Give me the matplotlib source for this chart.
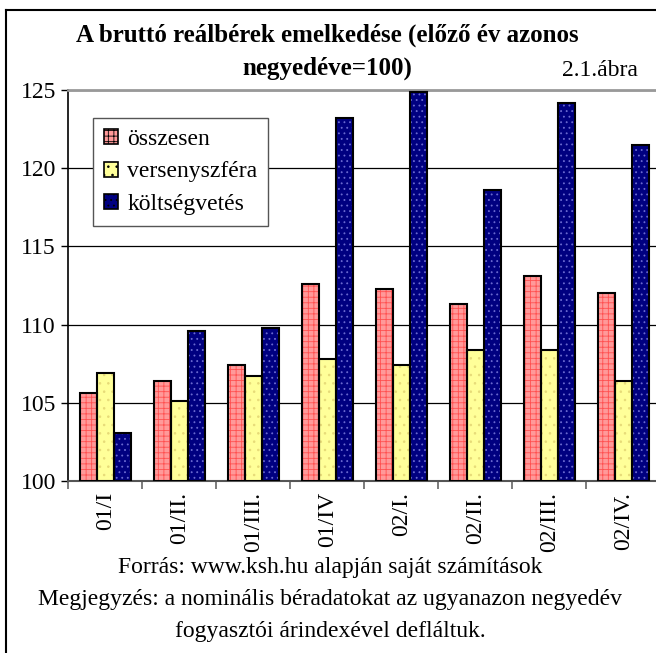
import numpy as np
import matplotlib
matplotlib.use('Agg')
import matplotlib.pyplot as plt
from matplotlib.lines import Line2D

plt.rcParams['font.family'] = ['Liberation Serif', 'DejaVu Serif']
plt.rcParams['hatch.linewidth'] = 0.6

# adatok
negyedevek = ['01/I', '01/II.', '01/III.', '01/IV', '02/I.', '02/II.', '02/III.', '02/IV.']
osszesen = [105.6, 106.4, 107.4, 112.6, 112.3, 111.3, 113.1, 112.0]
versenyszfera = [106.9, 105.1, 106.7, 107.8, 107.4, 108.4, 108.4, 106.4]
koltsegvetes = [103.1, 109.6, 109.8, 123.2, 124.9, 118.6, 124.2, 121.5]

sorozatok = [
    ('összesen', osszesen, '#FF9999', '#FF5050', '+++'),
    ('versenyszféra', versenyszfera, '#FFFF99', '#E6DA78', '..'),
    ('költségvetés', koltsegvetes, '#000080', '#6A6AD0', '...'),
]

fig = plt.figure(figsize=(6.56, 6.53), dpi=100)
ax = fig.add_axes([68.3 / 656, 1 - 481 / 653, 592 / 656, 391 / 653])

x = np.arange(len(negyedevek)) + 0.5
w = 0.23
handles = []
for i, (nev, ertek, szin, mintaszin, minta) in enumerate(sorozatok):
    pos = x + (i - 1) * w
    h = np.array(ertek) - 100
    # minta (hatch) külön rajzolva, hogy saját színe legyen
    ax.bar(pos, h, w, bottom=100, color=szin, edgecolor=mintaszin,
           hatch=minta, linewidth=0, zorder=3)
    ax.bar(pos, h, w, bottom=100, facecolor='none', edgecolor='black',
           linewidth=1.5, zorder=4)
    handles.append(plt.Rectangle((0, 0), 1, 1, facecolor=szin, edgecolor='black',
                                 hatch=minta, linewidth=1.2))

ax.set_xlim(0, len(negyedevek))
ax.set_ylim(100, 125)
ax.set_yticks([100, 105, 110, 115, 120, 125])
ax.yaxis.grid(True, color='black', linewidth=0.9, zorder=0)
ax.set_axisbelow(True)
ax.tick_params(axis='y', direction='out', length=5, width=1, labelsize=17, pad=4)

ax.set_xticks(np.arange(len(negyedevek) + 1))
ax.set_xticklabels([])
ax.set_xticks(x, minor=True)
ax.set_xticklabels(negyedevek, minor=True, rotation=90, fontsize=17)
ax.tick_params(axis='x', which='major', direction='out', length=6, width=1.2, color='#666666')
ax.tick_params(axis='x', which='minor', length=0, pad=8)

ax.spines['right'].set_visible(False)
ax.spines['top'].set_color('#999999')
ax.spines['top'].set_linewidth(2)
ax.spines['left'].set_linewidth(1.2)
ax.spines['bottom'].set_color('#555555')
ax.spines['bottom'].set_linewidth(1.5)

leg = ax.legend(handles, [s[0] for s in sorozatok], loc='upper left',
                bbox_to_anchor=((93 - 68.3) / 592, 1 - (118 - 90) / 391),
                fontsize=17, frameon=True, fancybox=False, framealpha=1,
                edgecolor='#555555', handlelength=0.6, handleheight=0.6,
                handletextpad=0.4, labelspacing=0.5, borderpad=0.45,
                borderaxespad=0)
leg.get_frame().set_linewidth(1)

fig.text(327 / 656, 1 - 35 / 653, 'A bruttó reálbérek emelkedése (előző év azonos',
         ha='center', va='center', fontsize=18, fontweight='bold')
fig.text(327 / 656, 1 - 68 / 653, 'negyedéve=100)',
         ha='center', va='center', fontsize=18, fontweight='bold')
fig.text(600 / 656, 1 - 70 / 653, '2.1.ábra', ha='center', va='center', fontsize=17)

fig.text(330 / 656, 1 - 568 / 653, 'Forrás: www.ksh.hu alapján saját számítások',
         ha='center', va='center', fontsize=17)
fig.text(330 / 656, 1 - 600 / 653,
         'Megjegyzés: a nominális béradatokat az ugyanazon negyedév',
         ha='center', va='center', fontsize=17)
fig.text(330 / 656, 1 - 631 / 653, 'fogyasztói árindexével defláltuk.',
         ha='center', va='center', fontsize=17)

# külső keret (csak a bal és felső oldal látszik)
fig.add_artist(Line2D([6 / 656, 6 / 656], [0, 1 - 10 / 653], color='black', lw=1.5))
fig.add_artist(Line2D([6 / 656, 1], [1 - 10 / 653, 1 - 10 / 653], color='black', lw=1.5))

fig.savefig('out.png', dpi=100)
